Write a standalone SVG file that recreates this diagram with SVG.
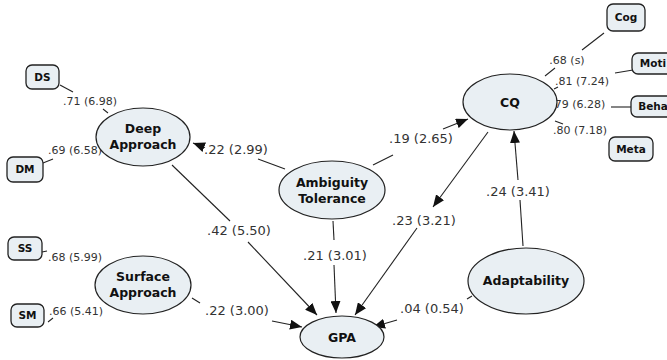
<svg xmlns="http://www.w3.org/2000/svg" width="667" height="360" viewBox="0 0 667 360">
<defs>
<marker id="ah" viewBox="0 0 12 10" refX="12" refY="5" markerWidth="12" markerHeight="10" markerUnits="userSpaceOnUse" orient="auto">
<path d="M0,0 L12,5 L0,10 Z" fill="#111"/>
</marker>
<style>
.bg{fill:#fff}
.node ellipse{fill:#e9eff3;stroke:#222;stroke-width:1.2}
.node rect{fill:#e9eff3;stroke:#222;stroke-width:1.3}
.nt{font-family:"DejaVu Sans",Verdana,sans-serif;font-weight:bold;font-size:12.5px;fill:#111;text-anchor:middle}
.bt{font-family:"DejaVu Sans",Verdana,sans-serif;font-weight:bold;font-size:10.5px;fill:#111;text-anchor:middle}
.lb{font-family:"DejaVu Sans",Verdana,sans-serif;font-size:11px;fill:#333;text-anchor:middle}
.lm{font-family:"DejaVu Sans",Verdana,sans-serif;font-size:13px;fill:#333;text-anchor:middle}
.c line{stroke:#222;stroke-width:1.1}
.c line.a{marker-end:url(#ah)}
</style>
</defs>
<rect class="bg" x="0" y="0" width="667" height="360"/>

<g id="connectors" class="c">
<line x1="60" y1="85" x2="73" y2="92"/>
<line x1="103" y1="109" x2="108" y2="113"/>
<line x1="43" y1="163" x2="53" y2="159"/>
<line x1="42" y1="252" x2="47" y2="251"/>
<line x1="48" y1="322" x2="53" y2="318"/>
<line x1="172" y1="165" x2="230" y2="221"/>
<line class="a" x1="248" y1="242" x2="317" y2="315"/>
<line x1="285" y1="169" x2="258" y2="159"/>
<line class="a" x1="205" y1="147.5" x2="193" y2="143"/>
<line x1="373" y1="165" x2="393" y2="155"/>
<line class="a" x1="443" y1="129" x2="468" y2="119"/>
<line class="a" x1="488" y1="132" x2="433" y2="207"/>
<line class="a" x1="417" y1="228" x2="355" y2="315"/>
<line x1="333" y1="221" x2="334" y2="240"/>
<line class="a" x1="334" y1="265" x2="336" y2="313"/>
<line x1="523" y1="246" x2="520" y2="200"/>
<line class="a" x1="518" y1="180" x2="514" y2="131"/>
<line x1="192" y1="298" x2="200" y2="303"/>
<line class="a" x1="272" y1="321" x2="302" y2="327"/>
<line x1="472" y1="296" x2="467" y2="299"/>
<line class="a" x1="397" y1="320" x2="373" y2="327"/>
<line x1="545" y1="76" x2="555" y2="68"/>
<line x1="582" y1="50" x2="604" y2="33"/>
<line x1="554" y1="89" x2="558" y2="87"/>
<line x1="615" y1="73" x2="633" y2="70"/>
<line x1="611" y1="107" x2="631" y2="107"/>
<line x1="555" y1="121" x2="563" y2="124"/>
</g>

<g id="labels">
<text class="lb" x="90" y="105">.71 (6.98)</text>
<text class="lb" x="75" y="154">.69 (6.58)</text>
<text class="lb" x="75" y="261">.68 (5.99)</text>
<text class="lb" x="76" y="315">.66 (5.41)</text>
<text class="lm" x="236" y="153.5">.22 (2.99)</text>
<text class="lm" x="421" y="142.5">.19 (2.65)</text>
<text class="lm" x="239" y="234.5">.42 (5.50)</text>
<text class="lm" x="335" y="259.5">.21 (3.01)</text>
<text class="lm" x="424" y="224.5">.23 (3.21)</text>
<text class="lm" x="518" y="195.5">.24 (3.41)</text>
<text class="lm" x="237" y="314.5">.22 (3.00)</text>
<text class="lm" x="432" y="312.5">.04 (0.54)</text>
<text class="lb" x="567" y="64">.68 (s)</text>
<text class="lb" x="582" y="85">.81 (7.24)</text>
<text class="lb" x="580" y="108">79 (6.28)</text>
<text class="lb" x="580" y="134">.80 (7.18)</text>
</g>

<g id="deep" class="node"><ellipse cx="143" cy="137" rx="47" ry="29"/><text class="nt" x="143" y="133">Deep</text><text class="nt" x="143" y="149">Approach</text></g>
<g id="surface" class="node"><ellipse cx="143" cy="285" rx="48" ry="29"/><text class="nt" x="143" y="281">Surface</text><text class="nt" x="143" y="297">Approach</text></g>
<g id="ambiguity" class="node"><ellipse cx="332" cy="190" rx="53" ry="29"/><text class="nt" x="332" y="187">Ambiguity</text><text class="nt" x="332" y="203">Tolerance</text></g>
<g id="gpa" class="node"><ellipse cx="342" cy="337" rx="42" ry="21"/><text class="nt" x="342" y="342">GPA</text></g>
<g id="cq" class="node"><ellipse cx="510" cy="102" rx="47" ry="28"/><text class="nt" x="510" y="107">CQ</text></g>
<g id="adaptability" class="node"><ellipse cx="526" cy="281" rx="58" ry="33"/><text class="nt" x="526" y="285">Adaptability</text></g>

<g id="ds" class="node"><rect x="26" y="65" width="33" height="24" rx="6"/><text class="bt" x="42.5" y="81">DS</text></g>
<g id="dm" class="node"><rect x="7" y="157" width="36" height="25" rx="6"/><text class="bt" x="25" y="173">DM</text></g>
<g id="ss" class="node"><rect x="8" y="237" width="34" height="23" rx="6"/><text class="bt" x="25" y="252">SS</text></g>
<g id="sm" class="node"><rect x="11" y="304" width="33" height="23" rx="6"/><text class="bt" x="27.5" y="319">SM</text></g>
<g id="cog" class="node"><rect x="607" y="4" width="38" height="27" rx="6"/><text class="bt" x="626" y="21">Cog</text></g>
<g id="moti" class="node"><rect x="632" y="53" width="50" height="21" rx="6"/><text class="bt" x="653" y="67">Moti</text></g>
<g id="beha" class="node"><rect x="631" y="96" width="50" height="21" rx="6"/><text class="bt" x="653" y="110">Beha</text></g>
<g id="meta" class="node"><rect x="609" y="137" width="44" height="24" rx="6"/><text class="bt" x="631" y="153">Meta</text></g>
</svg>
